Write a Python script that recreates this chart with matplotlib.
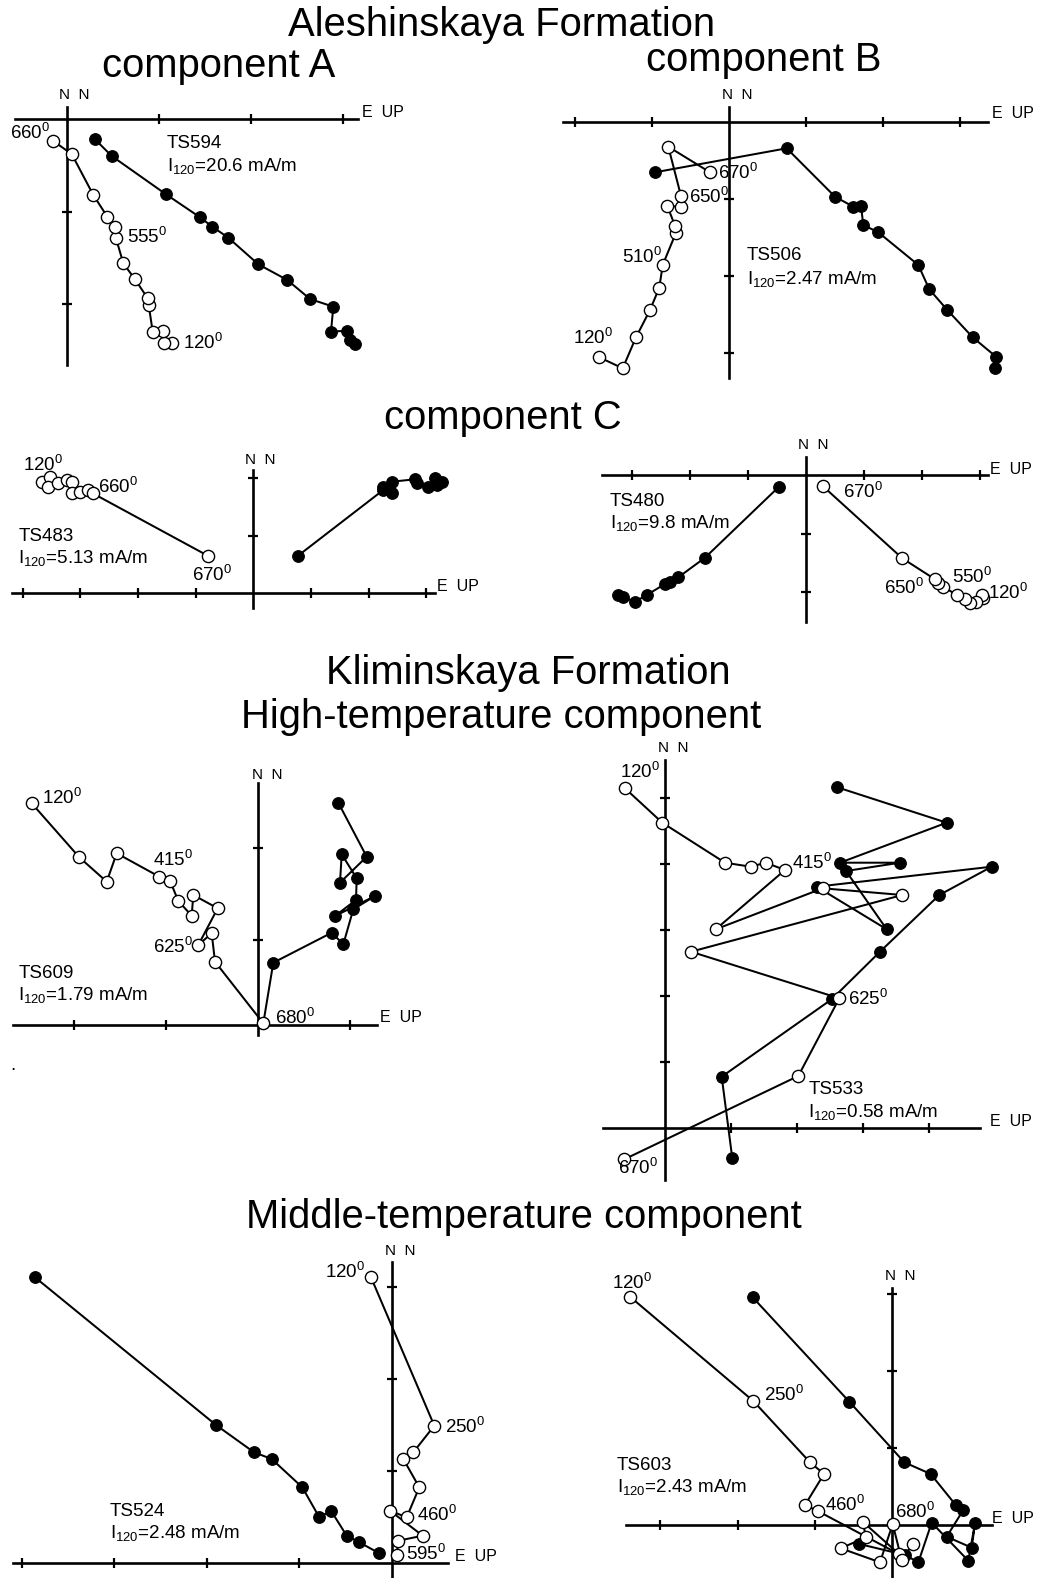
import matplotlib
matplotlib.use("Agg")
import matplotlib.pyplot as plt
import numpy as np

plt.rcParams['font.family'] = ['Liberation Sans', 'DejaVu Sans']
plt.rcParams['mathtext.fontset'] = 'custom'
plt.rcParams['mathtext.rm'] = 'Liberation Sans'
plt.rcParams['mathtext.it'] = 'Liberation Sans:italic'

W, H = 1039, 1578

# ---- data: demagnetisation paths (x = E, y = N / UP), units ----
# open circles = vertical projection, filled = horizontal projection

# TS594, component A
ts594_open = [(105, -224), (97.6, -224), (96, -211.4), (86, -212.4), (82, -185.7), (81, -179),
              (68.3, -160), (56.6, -144), (49.3, -119), (48.3, -107.4), (40.6, -97.4),
              (26.6, -75.7), (5, -34.7), (-14, -21.4)]
ts594_fill = [(288.3, -224.7), (283.3, -220.7), (280, -211.4), (264.3, -212.4), (266.6, -187.4),
              (243.3, -179.7), (220.6, -160.7), (191.6, -145), (161.6, -118.4), (145.6, -107.4),
              (133.3, -98), (99.3, -75), (45, -36.7), (28.3, -20)]

# TS506, component B
ts506_open = [(-130, -235.6), (-106.6, -246.6), (-93.3, -215.6), (-79.3, -188.3), (-70, -166),
              (-66.6, -143.3), (-53.3, -111), (-54.3, -104), (-62, -84.3), (-48.3, -85),
              (-48.3, -74.3), (-61, -25), (-19.3, -50.6)]
ts506_fill = [(265.7, -246.6), (266.7, -235), (243.4, -215.6), (218, -188.3), (200, -167.6),
              (189, -143.3), (149, -110.6), (134, -103.3), (131.7, -84.3), (124, -85),
              (105.7, -75), (57.4, -26.6), (-74.3, -50.6)]

# TS483, component C
ts483_open = [(-211.6, 111.6), (-203.3, 116.6), (-205, 106.6), (-195, 110), (-186.6, 113.3),
              (-181.6, 111.6), (-181.6, 100), (-173.3, 101.6), (-165, 103.3), (-160.6, 100),
              (-45, 37.3)]
ts483_fill = [(188.4, 111.6), (181.7, 115), (183.4, 108.3), (175, 106.6), (163.4, 110),
              (161.7, 114), (138.4, 111.6), (129.4, 106.6), (138.4, 100), (130, 103.3),
              (44.4, 37.3)]

# TS480, component C
ts480_open = [(176.7, -123.3), (175.7, -120), (170, -126.7), (164, -128.3), (159, -124.3),
              (150.7, -120), (137.3, -111.7), (132.3, -108.3), (129, -104.3), (96.3, -83.3),
              (16.7, -11)]
ts480_fill = [(-187.7, -120), (-182.7, -122.3), (-171, -126.7), (-159.3, -120), (-141, -109),
              (-136, -106.7), (-127.7, -102.3), (-101, -82.7), (-27, -11.7)]

# TS609, high-temperature
ts609_open = [(-226.6, 221.7), (-179, 167.7), (-151.6, 143.3), (-141.6, 171.7), (-99, 148.3),
              (-88.3, 144.3), (-80, 124), (-66.6, 109.3), (-65, 130), (-40.6, 116.7),
              (-60, 80), (-46.6, 91.7), (-43.3, 63.3), (5, 1.7)]
ts609_fill = [(80, 222.3), (108.4, 168.3), (81.7, 142.3), (83.4, 170.7), (98.4, 146.7),
              (97.7, 125), (76.7, 109), (116.7, 129), (95, 115.7), (85, 80.7), (73.4, 92.3),
              (15, 62.3), (5, 1.7)]

# TS533, high-temperature
ts533_open = [(-40, 340), (-2.7, 305.6), (60, 265.6), (85.7, 261.6), (100.7, 265.6),
              (120, 258.3), (50.7, 199), (157.7, 240), (237.3, 233.3), (26, 176.6),
              (174.3, 130), (133.3, 52.3), (-40.7, -31)]
ts533_fill = [(172.3, 341), (281.7, 305.6), (175, 265.6), (235, 265.6), (181, 257.3),
              (221.7, 199), (151.7, 241.6), (326.7, 261.6), (274.3, 233.3), (215, 176.6),
              (166.7, 129), (56.7, 51.6), (67.3, -30)]

# TS524, middle-temperature
ts524_open = [(-20.7, 285.4), (42.6, 137), (21.6, 110.4), (11.6, 103.7), (27.6, 75.4),
              (15, 45.4), (-1.7, 52), (31, 27), (6.6, 22), (5, 7.7)]
ts524_fill = [(-356.7, 285.4), (-175.7, 137.7), (-137.7, 110.4), (-120, 103.7), (-89.4, 75.4),
              (-72.4, 45.4), (-60.7, 52), (-45, 27), (-32.4, 20.4), (-12.4, 9.4)]

# TS603, middle-temperature
ts603_open = [(-262.3, 228.6), (-139, 124.3), (-82.3, 63), (-68.3, 51.3), (-87.3, 20.3),
              (-74.6, 14.3), (7, -29), (-29.6, 3.6), (-26.3, -12), (-51.6, -23),
              (-12.3, -37), (0.4, 1.3), (9.4, -34.7), (20.4, -18.7)]
ts603_fill = [(-139.6, 228), (-43, 123.6), (12, 63), (38.4, 51.3), (63.4, 20.3), (71, 15.3),
              (54.4, -11.4), (79.4, -22.4), (82.7, 2), (76, -35.4), (39.4, 2.6), (26, -37),
              (12.7, -29.7), (-33, -18.7)]


def deg(t):
    return t + r'$^{\mathrm{0}}$'


def intensity(v):
    return r'I$_{\mathrm{120}}$=' + v + ' mA/m'


# panel layout: origin in pixels, axis extents, tick step / counts, labels
panels = [
    dict(origin=(66.7, 119.3), xr=(-51.7, 291.3), yr=(-245.7, 12.3), step=(92, 92.5),
         xk=[1, 2, 3], yk=[-1, -2], data=(ts594_open, ts594_fill),
         nn=(7.3, 24.3), eup=(295.3, 6.6),
         labels=[(deg('660'), -57, -13.7), (deg('555'), 60, -117.4), (deg('120'), 116.3, -223.7),
                 ('TS594', 100, -24), (intensity('20.6'), 100, -46.7)]),
    dict(origin=(729.3, 121.7), xr=(-166.3, 258.7), yr=(-256.3, 15), step=(77, 77),
         xk=[-2, -1, 1, 2, 3], yk=[-1, -2, -3], data=(ts506_open, ts506_fill),
         nn=(8, 26.7), eup=(262.4, 8.7),
         labels=[(deg('510'), -107.6, -135), (deg('650'), -40.3, -75), (deg('670'), -11.3, -51.3),
                 (deg('120'), -156.3, -216.3), ('TS506', 17.4, -133.3), (intensity('2.47'), 17.4, -157.6)]),
    dict(origin=(253.3, 593.3), xr=(-241.6, 181.7), yr=(-14.7, 123.3), step=(57.7, 57.7),
         xk=[-4, -3, -2, -1, 1, 2, 3], yk=[1, 2], data=(ts483_open, ts483_fill),
         nn=(7.2, 133.3), eup=(183.4, 6.6),
         labels=[(deg('120'), -230, 128.3), (deg('660'), -155, 106.6), (deg('670'), -61.6, 18.3),
                 ('TS483', -235, 56.6), (intensity('5.13'), -235, 35)]),
    dict(origin=(806, 475), xr=(-204.3, 182.3), yr=(-146.7, 18.3), step=(58, 58.5),
         xk=[-3, -2, -1, 1, 2, 3], yk=[-1, -2], data=(ts480_open, ts480_fill),
         nn=(7.5, 30), eup=(184, 6),
         labels=[('TS480', -196, -26.7), (intensity('9.8'), -196, -48.3), (deg('670'), 37.3, -16.7),
                 (deg('650'), 78, -113.3), (deg('550'), 145.7, -101.7), (deg('120'), 182.3, -118.3)]),
    dict(origin=(258.3, 1025), xr=(-245, 118.4), yr=(-10, 241.7), step=(92, 88),
         xk=[-2, -1, 1], yk=[0.97, 2.01], data=(ts609_open, ts609_fill),
         nn=(9.2, 250), eup=(121.7, 7),
         labels=[(deg('120'), -216.6, 226.7), (deg('415'), -105.6, 165), (deg('625'), -105.6, 78.3),
                 (deg('680'), 16.7, 6.7), ('TS609', -240, 51.7), (intensity('1.79'), -240, 30),
                 ('.', -248.3, -40)]),
    dict(origin=(665, 1128.3), xr=(-61.7, 315), yr=(-51.7, 368.3), step=(66, 66),
         xk=[1, 2, 3, 4], yk=[1, 2, 3, 4, 5], data=(ts533_open, ts533_fill),
         nn=(8.3, 380), eup=(325, 6.6),
         labels=[(deg('120'), -45, 356.6), (deg('415'), 126.7, 265), (deg('625'), 183.3, 129),
                 (deg('670'), -46.7, -39.7), ('TS533', 143.3, 39), (intensity('0.58'), 143.3, 16.6)]),
    dict(origin=(391.7, 1562.7), xr=(-378.4, 56.6), yr=(-15, 301), step=(92.5, 91.8),
         xk=[-4, -3, -2, -1], yk=[1, 2, 3], data=(ts524_open, ts524_fill),
         nn=(8.3, 312), eup=(63.3, 6),
         labels=[(deg('120'), -66.7, 291), (deg('250'), 53.3, 136), (deg('460'), 25, 47.7),
                 (deg('595'), 14.3, 8.7), ('TS524', -281.7, 51), (intensity('2.48'), -281.7, 29.4)]),
    dict(origin=(892.3, 1525.3), xr=(-266.3, 99.4), yr=(-52.7, 237), step=(77.4, 77),
         xk=[-3, -2, -1], yk=[1, 2, 3], data=(ts603_open, ts603_fill),
         nn=(8.2, 249.3), eup=(99.4, 7),
         labels=[(deg('120'), -280.6, 242), (deg('250'), -128.3, 130.3), (deg('460'), -67.3, 20.3),
                 (deg('680'), 2.7, 13.6), ('TS603', -275.6, 60.3), (intensity('2.43'), -275.6, 38.6)]),
]

titles = [
    ('Aleshinskaya Formation', 502, 36),
    ('component A', 219, 77),
    ('component B', 764, 71),
    ('component C', 503, 429),
    ('Kliminskaya Formation', 528, 684),
    ('High-temperature component', 501, 728),
    ('Middle-temperature component', 524, 1228),
]

fig = plt.figure(figsize=(W / 100, H / 100), dpi=100)
fig.patch.set_facecolor('white')

for p in panels:
    ox, oy = p['origin']
    x0, x1 = p['xr']
    y0, y1 = p['yr']
    rect = [(ox + x0) / W, (H - (oy - y0)) / H, (x1 - x0) / W, (y1 - y0) / H]
    ax = fig.add_axes(rect)
    ax.set_xlim(x0, x1)
    ax.set_ylim(y0, y1)
    ax.patch.set_visible(False)
    for s in ['top', 'right']:
        ax.spines[s].set_visible(False)
    for s in ['left', 'bottom']:
        ax.spines[s].set_position(('data', 0))
        ax.spines[s].set_linewidth(1.9)
    ax.set_xticks([k * p['step'][0] for k in p['xk']])
    ax.set_yticks([k * p['step'][1] for k in p['yk']])
    ax.tick_params(direction='inout', length=7, width=1.6,
                   labelbottom=False, labelleft=False)

    op, fl = p['data']
    fx, fy = np.array(fl).T
    ax.plot(fx, fy, '-o', color='black', lw=1.45, ms=8.4, mfc='black', mec='black',
            mew=0.8, clip_on=False, zorder=3)
    ox_, oy_ = np.array(op).T
    ax.plot(ox_, oy_, '-o', color='black', lw=1.45, ms=8.8, mfc='white', mec='black',
            mew=1.0, clip_on=False, zorder=4)

    for txt, dx, dy in p['labels']:
        ax.text(dx, dy, txt, ha='left', va='center', fontsize=13.5, clip_on=False, zorder=5)
    ax.text(p['nn'][0], p['nn'][1], 'N  N', ha='center', va='center', fontsize=11,
            clip_on=False)
    ax.text(p['eup'][0], p['eup'][1], 'E  UP', ha='left', va='center', fontsize=11.5,
            clip_on=False)

for txt, x, y in titles:
    fig.text(x / W, 1 - y / H, txt, ha='center', va='baseline', fontsize=28.8)

fig.savefig('out.png', dpi=100, facecolor='white')
